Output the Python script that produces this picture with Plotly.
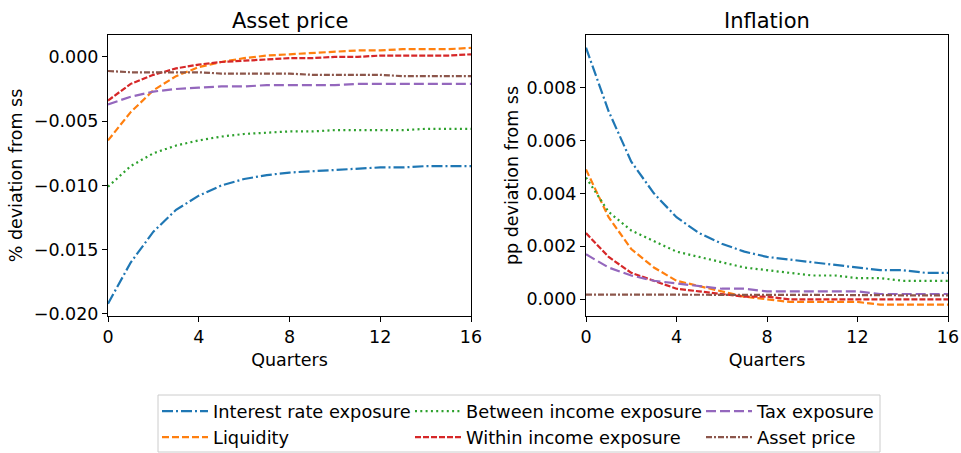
import plotly.graph_objects as go

quarters = list(range(17))

ap_interest = [-0.0192, -0.0160, -0.0136, -0.0119, -0.0108, -0.0100, -0.0095, -0.0092, -0.0090,
               -0.0089, -0.0088, -0.0087, -0.0086, -0.0086, -0.0085, -0.0085, -0.0085]
ap_liquidity = [-0.0065, -0.0043, -0.0026, -0.0015, -0.0008, -0.0004, -0.0001, 0.0001, 0.0002,
                0.0003, 0.0004, 0.0005, 0.0005, 0.0006, 0.0006, 0.0006, 0.0007]
ap_between = [-0.0101, -0.0085, -0.0075, -0.0069, -0.0065, -0.0062, -0.0060, -0.0059, -0.0058,
              -0.0058, -0.0057, -0.0057, -0.0057, -0.0057, -0.0056, -0.0056, -0.0056]
ap_within = [-0.0034, -0.0021, -0.0014, -0.0009, -0.0006, -0.0004, -0.0003, -0.0002, -0.0001,
             -0.0001, 0.0000, 0.0000, 0.0001, 0.0001, 0.0001, 0.0001, 0.0002]
ap_tax = [-0.0037, -0.0031, -0.0027, -0.0025, -0.0024, -0.0023, -0.0023, -0.0022, -0.0022,
          -0.0022, -0.0022, -0.0021, -0.0021, -0.0021, -0.0021, -0.0021, -0.0021]
ap_asset = [-0.0011, -0.0012, -0.0012, -0.0012, -0.0012, -0.0013, -0.0013, -0.0013, -0.0013,
            -0.0014, -0.0014, -0.0014, -0.0014, -0.0015, -0.0015, -0.0015, -0.0015]

inf_interest = [0.0095, 0.0071, 0.0052, 0.0040, 0.0031, 0.0025, 0.0021, 0.0018, 0.0016,
                0.0015, 0.0014, 0.0013, 0.0012, 0.0011, 0.0011, 0.0010, 0.0010]
inf_liquidity = [0.0049, 0.0031, 0.0019, 0.0012, 0.0007, 0.0005, 0.0003, 0.0001, 0.0000,
                 -0.0001, -0.0001, -0.0001, -0.0001, -0.0002, -0.0002, -0.0002, -0.0002]
inf_between = [0.0046, 0.0033, 0.0026, 0.0022, 0.0018, 0.0016, 0.0014, 0.0012, 0.0011,
               0.0010, 0.0009, 0.0009, 0.0008, 0.0008, 0.0007, 0.0007, 0.0007]
inf_within = [0.0025, 0.0016, 0.0010, 0.0007, 0.0004, 0.0003, 0.0002, 0.0001, 0.0001,
              0.0000, 0.0000, 0.0000, 0.0000, 0.0000, 0.0000, 0.0000, 0.0000]
inf_tax = [0.0017, 0.0012, 0.0009, 0.0007, 0.0006, 0.0005, 0.0004, 0.0004, 0.0003,
           0.0003, 0.0003, 0.0003, 0.0003, 0.0002, 0.0002, 0.0002, 0.0002]
inf_asset = [0.00018, 0.00018, 0.00018, 0.00018, 0.00017, 0.00017, 0.00017, 0.00017, 0.00017,
             0.00016, 0.00016, 0.00016, 0.00016, 0.00016, 0.00015, 0.00015, 0.00015]

series_names = ["Interest rate exposure", "Liquidity", "Between income exposure",
                "Within income exposure", "Tax exposure", "Asset price"]
ap_data = [ap_interest, ap_liquidity, ap_between, ap_within, ap_tax, ap_asset]
inf_data = [inf_interest, inf_liquidity, inf_between, inf_within, inf_tax, inf_asset]

x_ticks = [0, 4, 8, 12, 16]
ap_ticks = [-0.020, -0.015, -0.010, -0.005, 0.000]
inf_ticks = [0.000, 0.002, 0.004, 0.006, 0.008]

colors = ["#1f77b4", "#ff7f0e", "#2ca02c", "#d62728", "#9467bd", "#8c564b"]
dashes = ["11px,3px,2px,3px", "7px,3px", "2px,3.3px", "6px,2px", "10px,4px", "6px,2px,2px,2px"]
legend_ids = ["legend", "legend", "legend2", "legend2", "legend3", "legend3"]

FONT = "DejaVu Sans"
FS = 17.5
LFS = 17.8
W, H = 961, 453

fig = go.Figure()
for i, name in enumerate(series_names):
    fig.add_trace(go.Scatter(x=quarters, y=ap_data[i], mode="lines", name=name,
                             line=dict(color=colors[i], width=2.2, dash=dashes[i]),
                             xaxis="x", yaxis="y", legend=legend_ids[i]))
for i, name in enumerate(series_names):
    fig.add_trace(go.Scatter(x=quarters, y=inf_data[i], mode="lines", name=name,
                             line=dict(color=colors[i], width=2.2, dash=dashes[i]),
                             xaxis="x2", yaxis="y2", showlegend=False))

def px_x(p):
    return p / W

def px_y(p):
    return 1 - p / H

axis_common = dict(showline=True, linecolor="black", linewidth=1, mirror=True,
                   ticks="outside", ticklen=5, tickcolor="black", showgrid=False,
                   zeroline=False, automargin=False,
                   tickfont=dict(family=FONT, size=FS, color="black"))

legend_common = dict(xanchor="left", yanchor="top", bgcolor="rgba(0,0,0,0)", borderwidth=0,
                     font=dict(family=FONT, size=LFS), orientation="v", itemwidth=46)

fig.update_layout(
    width=W, height=H, autosize=False,
    margin=dict(l=0, r=0, t=0, b=0, pad=0, autoexpand=False),
    paper_bgcolor="white", plot_bgcolor="white",
    font=dict(family=FONT, size=FS, color="black"),
    xaxis=dict(domain=[px_x(108), px_x(471)], range=[0, 16], tickvals=x_ticks,
               title=dict(text="Quarters", font=dict(family=FONT, size=FS), standoff=7),
               anchor="y", **axis_common),
    yaxis=dict(domain=[px_y(316), px_y(35)], range=[-0.02016, 0.0017], tickvals=ap_ticks,
               tickformat=".3f",
               title=dict(text="% deviation from ss", font=dict(family=FONT, size=FS), standoff=6),
               anchor="x", **axis_common),
    xaxis2=dict(domain=[px_x(586), px_x(948)], range=[0, 16], tickvals=x_ticks,
                title=dict(text="Quarters", font=dict(family=FONT, size=FS), standoff=7),
                anchor="y2", **axis_common),
    yaxis2=dict(domain=[px_y(316), px_y(35)], range=[-0.00063, 0.00998], tickvals=inf_ticks,
                tickformat=".3f",
                title=dict(text="pp deviation from ss", font=dict(family=FONT, size=FS), standoff=3),
                anchor="x2", **axis_common),
    legend=dict(x=px_x(157), y=px_y(393), **legend_common),
    legend2=dict(x=px_x(410), y=px_y(393), **legend_common),
    legend3=dict(x=px_x(701), y=px_y(393), **legend_common),
    shapes=[dict(type="rect", xref="paper", yref="paper",
                 x0=px_x(158), x1=px_x(880), y0=px_y(452), y1=px_y(395),
                 line=dict(color="#cccccc", width=1), fillcolor="rgba(0,0,0,0)", layer="below")],
    annotations=[
        dict(text="Asset price", x=(px_x(108) + px_x(471)) / 2, y=px_y(21), xref="paper", yref="paper",
             showarrow=False, font=dict(family=FONT, size=21, color="black"),
             xanchor="center", yanchor="middle"),
        dict(text="Inflation", x=(px_x(586) + px_x(948)) / 2, y=px_y(21), xref="paper", yref="paper",
             showarrow=False, font=dict(family=FONT, size=21, color="black"),
             xanchor="center", yanchor="middle"),
    ],
)

fig.write_html("out.html")
